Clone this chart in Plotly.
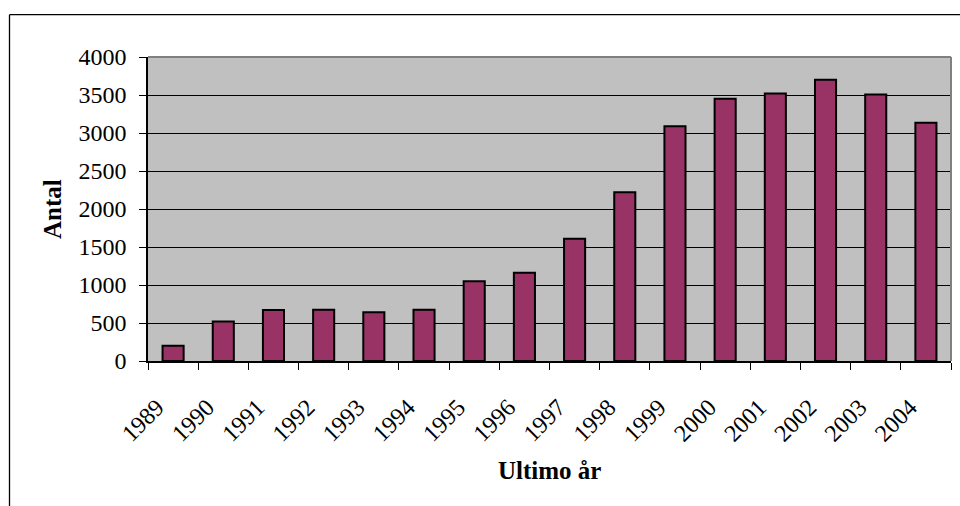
import plotly.graph_objects as go

years = ["1989", "1990", "1991", "1992", "1993", "1994", "1995", "1996",
         "1997", "1998", "1999", "2000", "2001", "2002", "2003", "2004"]
antal = [200, 520, 670, 675, 640, 675, 1050, 1160,
         1610, 2220, 3090, 3450, 3520, 3700, 3505, 3135]
y_ticks = [0, 500, 1000, 1500, 2000, 2500, 3000, 3500, 4000]
x_title = "Ultimo år"
y_title = "Antal"

FONT = "Liberation Serif, Times New Roman, serif"

fig = go.Figure()
fig.add_trace(go.Bar(
    x=years, y=antal,
    marker=dict(color="#993366", line=dict(color="black", width=2)),
    width=0.42,
))

W, H = 960, 506
L, R, T, B = 148, 9, 57, 145
pw, ph = W - L - R, H - T - B

def px_x(p):  # p in window pixels
    return (p - L) / pw

def px_y(p):
    return (H - B - p) / ph

fig.update_layout(
    width=W, height=H,
    margin=dict(l=L, r=R, t=T, b=B, pad=0),
    paper_bgcolor="white",
    plot_bgcolor="#C0C0C0",
    font=dict(family=FONT, size=24, color="black"),
    showlegend=False,
    bargap=0.58,
    xaxis=dict(
        type="category",
        range=[-0.5, len(years) - 0.5],
        tickangle=-45,
        ticks="outside", ticklen=7, tickcolor="black", tickwidth=1,
        tickson="boundaries",
        showline=True, linecolor="black", linewidth=1.5,
        showgrid=False, zeroline=False,
        ticklabelstandoff=21,
        ticklabelshift=-16,
        tickfont=dict(family=FONT, size=24, color="black"),
    ),
    yaxis=dict(
        range=[0, 4000],
        tickvals=y_ticks,
        ticktext=[str(v) for v in y_ticks],
        ticks="outside", ticklen=7, tickcolor="black", tickwidth=1,
        showline=True, linecolor="black", linewidth=1.5,
        showgrid=True, gridcolor="black", gridwidth=1,
        zeroline=False,
        ticklabelstandoff=8,
        tickfont=dict(family=FONT, size=24, color="black"),
    ),
    shapes=[
        dict(type="line", xref="paper", yref="paper", x0=0, x1=1, y0=1, y1=1,
             line=dict(color="#808080", width=2)),
        dict(type="line", xref="paper", yref="paper", x0=1, x1=1, y0=0, y1=1,
             line=dict(color="#808080", width=2)),
        # outer chart frame: top and left edges only are visible
        dict(type="line", xref="paper", yref="paper",
             x0=px_x(9.5), x1=px_x(960), y0=px_y(14.7), y1=px_y(14.7),
             line=dict(color="black", width=1.3), layer="above"),
        dict(type="line", xref="paper", yref="paper",
             x0=px_x(9.5), x1=px_x(9.5), y0=px_y(14.7), y1=px_y(506),
             line=dict(color="black", width=1.3), layer="above"),
    ],
    annotations=[
        dict(text="<b>" + y_title + "</b>", xref="paper", yref="paper",
             x=px_x(52.5), y=px_y(209.5), textangle=-90, showarrow=False,
             xanchor="center", yanchor="middle",
             font=dict(family=FONT, size=25, color="black")),
        dict(text="<b>" + x_title + "</b>", xref="paper", yref="paper",
             x=0.5, y=px_y(470), showarrow=False,
             xanchor="center", yanchor="middle",
             font=dict(family=FONT, size=25, color="black")),
    ],
)

fig.write_html(
    "out.html",
    config={"displayModeBar": False},
    post_script="document.body.style.margin='0';document.body.style.overflow='hidden';",
)
